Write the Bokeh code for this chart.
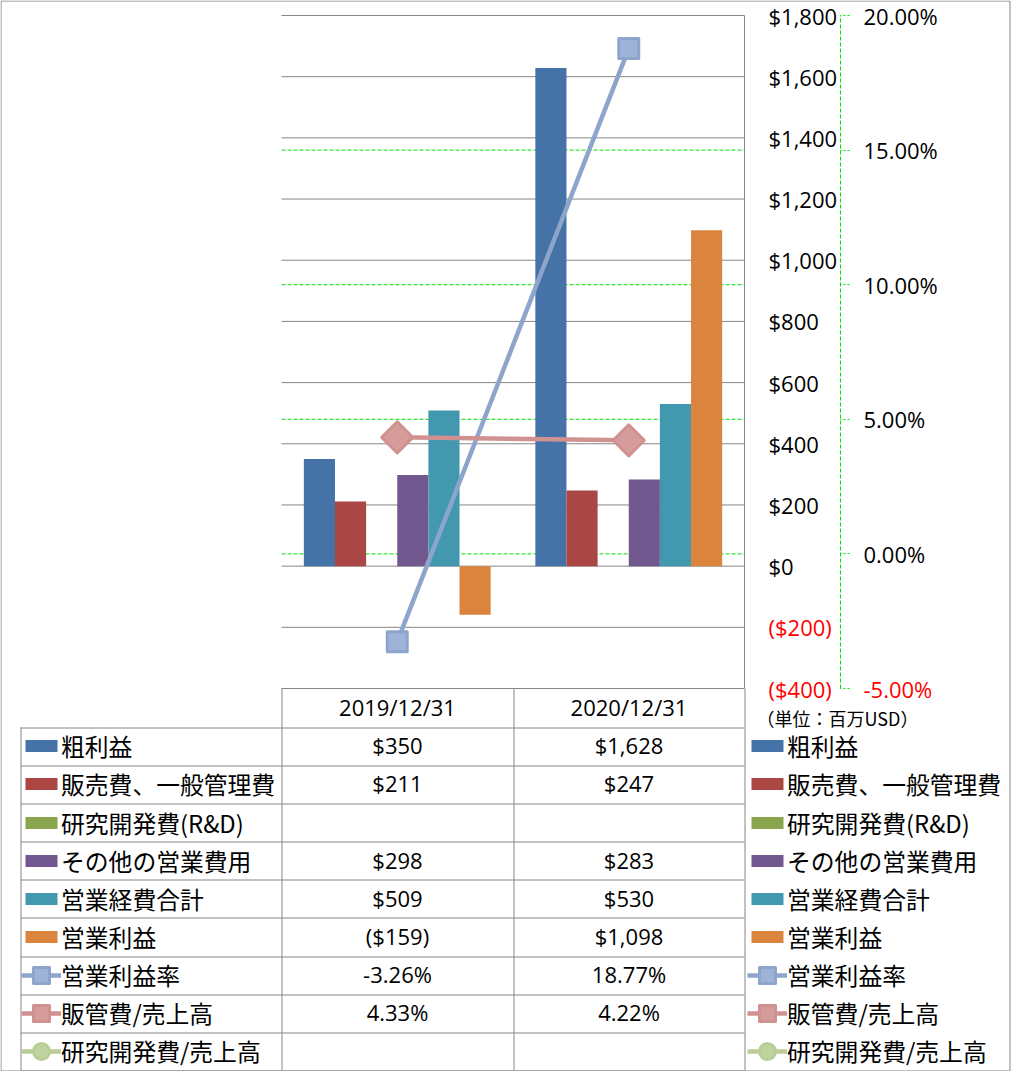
import math
from bokeh.plotting import figure
from bokeh.models import (Range1d, LinearAxis, FixedTicker, CustomJSTickFormatter,
                          Label, Legend, LegendItem, ColumnDataSource)
from bokeh.transform import dodge
from bokeh.embed import file_html
from bokeh.resources import INLINE

NaN = float("nan")

# ---------------- data ----------------
dates = ["2019/12/31", "2020/12/31"]
gross_profit = [350, 1628]
sga = [211, 247]
rnd = [NaN, NaN]
other_opex = [298, 283]
total_opex = [509, 530]
op_income = [-159, 1098]
op_margin = [-3.26, 18.77]
sga_ratio = [4.33, 4.22]
rnd_ratio = [NaN, NaN]

bar_names = ["粗利益", "販売費、一般管理費", "研究開発費(R&D)", "その他の営業費用", "営業経費合計", "営業利益"]
bar_values = [gross_profit, sga, rnd, other_opex, total_opex, op_income]
line_names = ["営業利益率", "販管費/売上高", "研究開発費/売上高"]
line_values = [op_margin, sga_ratio, rnd_ratio]

usd_ticks = [-400, -200, 0, 200, 400, 600, 800, 1000, 1200, 1400, 1600, 1800]
pct_ticks = [-5, 0, 5, 10, 15, 20]
pct_grid_ticks = [0, 5, 10, 15]
unit_note = "（単位：百万USD）"

# ---------------- styles ----------------
bar_colors = ["#4572A7", "#AA4643", "#89A54E", "#71588F", "#4198AF", "#DB843D"]
line_colors = ["#8EA5CB", "#D09290", "#B9CD96"]
marker_fills = ["#9DB3D8", "#D69C9B", "#BFD39E"]
markers = ["square", "square", "circle"]
marker_sizes = [20, 22, 20]
marker_angles = [0, math.pi / 4, 0]
GRAY = "#868686"
GREEN = "#00E000"
RED = "#FF0000"
NUM_FONT = "Open Sans"
JP_FONT = "Noto Sans CJK JP"

# ---------------- layout (pixels) ----------------
W, H = 1011, 1071
PL, PR, PT, PB = 281, 744, 15, 688          # plot area inside the chart
PCT_AXIS_PX = 840
USD_MIN, USD_MAX = usd_ticks[0], usd_ticks[-1]
PCT_MIN, PCT_MAX = pct_ticks[0], pct_ticks[-1]
n_cat = len(dates)

# ranges chosen so the whole canvas is the frame and the plot area lands on PL..PR, PT..PB
ux = (PR - PL) / n_cat
x_start, x_end = -PL / ux, n_cat + (W - PR) / ux
uy = (PB - PT) / (USD_MAX - USD_MIN)
y_start, y_end = USD_MIN - (H - PB) / uy, USD_MAX + PT / uy
up = (PB - PT) / (PCT_MAX - PCT_MIN)
p_start, p_end = PCT_MIN - (H - PB) / up, PCT_MAX + PT / up

cat_x = [i + 0.5 for i in range(n_cat)]


def money(v):
    if v != v:
        return ""
    return f"(${abs(v):,.0f})" if v < 0 else f"${v:,.0f}"


def pct(v):
    if v != v:
        return ""
    return f"{v:.2f}%"


p = figure(width=W, height=H, x_range=Range1d(x_start, x_end), y_range=Range1d(y_start, y_end),
           x_axis_location=None, y_axis_location=None, toolbar_location=None,
           output_backend="svg", min_border=0, outline_line_color=None,
           background_fill_color="white", border_fill_color="white")
p.grid.visible = False
p.extra_y_ranges = {"pct": Range1d(p_start, p_end), "py": Range1d(H, 0)}
p.extra_x_ranges = {"px": Range1d(0, W)}

# gridlines (plot area only)
p.segment(x0=0, x1=n_cat, y0=pct_grid_ticks, y1=pct_grid_ticks, y_range_name="pct",
          line_color=GREEN, line_width=1, line_dash="4 2")
p.segment(x0=0, x1=n_cat, y0=usd_ticks, y1=usd_ticks, line_color=GRAY, line_width=1)

# ---------------- table and border lines (pixel ranges) ----------------
T_LEFT, T_COL1, T_COL2, T_RIGHT = 20.5, PL, 513, PR
HEAD_TOP, ROW_TOP, T_BOTTOM = PB, 726.7, 1070
n_rows = len(bar_names) + len(line_names)
pitch = (T_BOTTOM - ROW_TOP) / n_rows
row_tops = [ROW_TOP + k * pitch for k in range(n_rows + 1)]
col_centers = [(T_COL1 + T_COL2) / 2, (T_COL2 + T_RIGHT) / 2]

seg = dict(x0=[], y0=[], x1=[], y1=[])


def add_seg(x0, y0, x1, y1):
    seg["x0"].append(x0); seg["y0"].append(y0); seg["x1"].append(x1); seg["y1"].append(y1)


for yt in row_tops:
    add_seg(T_LEFT, round(yt) + 0.5, T_RIGHT, round(yt) + 0.5)
add_seg(T_LEFT, ROW_TOP, T_LEFT, T_BOTTOM)
for xc in (T_COL1, T_COL2):
    add_seg(xc + 0.5, HEAD_TOP, xc + 0.5, T_BOTTOM)
add_seg(T_RIGHT + 0.5, HEAD_TOP, T_RIGHT + 0.5, T_BOTTOM)
# outer border of the chart area
add_seg(0.5, 0.5, W - 1.5, 0.5)
add_seg(0.5, H - 0.5, W - 1.5, H - 0.5)
add_seg(0.5, 0.5, 0.5, H - 0.5)
add_seg(W - 1.5, 0.5, W - 1.5, H - 0.5)
p.segment(x0="x0", y0="y0", x1="x1", y1="y1", source=ColumnDataSource(seg),
          x_range_name="px", y_range_name="py", line_color=GRAY, line_width=1)

# ---------------- bars ----------------
bw = 0.1345
bar_renderers = []
for i, (name, vals, color) in enumerate(zip(bar_names, bar_values, bar_colors)):
    src = ColumnDataSource(dict(x=cat_x, top=vals))
    r = p.vbar(x=dodge("x", (i - 2.5) * bw), top="top", bottom=0, width=bw,
               source=src, fill_color=color, line_color=None)
    bar_renderers.append(r)

# ---------------- lines ----------------
line_renderers = []
for i, (name, vals) in enumerate(zip(line_names, line_values)):
    src = ColumnDataSource(dict(x=cat_x, y=vals))
    lr = p.line("x", "y", source=src, y_range_name="pct", line_color=line_colors[i], line_width=4.5)
    sr = p.scatter("x", "y", source=src, y_range_name="pct", marker=markers[i],
                   size=marker_sizes[i], angle=marker_angles[i], fill_color=marker_fills[i],
                   line_color=line_colors[i], line_width=3, line_join="round")
    line_renderers.append([lr, sr])

# ---------------- axes (fixed inside the canvas) ----------------
USD_STANDOFF = 24
usd_axis = LinearAxis(
    fixed_location=n_cat, bounds=(USD_MIN, USD_MAX),
    ticker=FixedTicker(ticks=usd_ticks),
    formatter=CustomJSTickFormatter(code="return tick < 0 ? '' : '$' + tick.toLocaleString('en-US')"),
    axis_line_color=GRAY, major_tick_out=0, major_tick_in=0, minor_tick_out=0, minor_tick_in=0,
    major_label_standoff=USD_STANDOFF, major_label_text_font=NUM_FONT,
    major_label_text_font_size="22px", major_label_text_color="black")
p.add_layout(usd_axis, "right")

PCT_TICK, PCT_STANDOFF = 9, 14
pct_axis = LinearAxis(
    y_range_name="pct", fixed_location=x_start + PCT_AXIS_PX / ux, bounds=(PCT_MIN, PCT_MAX),
    ticker=FixedTicker(ticks=pct_ticks),
    formatter=CustomJSTickFormatter(code="return tick < 0 ? '' : tick.toFixed(2) + '%'"),
    axis_line_color=GREEN, axis_line_dash="4 2", major_tick_out=PCT_TICK, major_tick_in=0,
    major_tick_line_color=GREEN, major_tick_line_dash="2 2", minor_tick_out=0, minor_tick_in=0,
    major_label_standoff=PCT_STANDOFF, major_label_text_font=NUM_FONT,
    major_label_text_font_size="22px", major_label_text_color="black")
p.add_layout(pct_axis, "right")

# negative tick labels in red
for v in usd_ticks:
    if v < 0:
        p.add_layout(Label(x=PR + USD_STANDOFF, y=v, x_range_name="px", text=money(v),
                           text_color=RED, text_font=NUM_FONT, text_font_size="22px",
                           text_baseline="middle", text_align="left"))
for v in pct_ticks:
    if v < 0:
        p.add_layout(Label(x=PCT_AXIS_PX + PCT_TICK + PCT_STANDOFF, y=v, x_range_name="px",
                           y_range_name="pct", text=f"{v:.2f}%", text_color=RED,
                           text_font=NUM_FONT, text_font_size="22px",
                           text_baseline="middle", text_align="left"))

# ---------------- table texts ----------------
TXT_DY = -1
for j, d in enumerate(dates):
    p.add_layout(Label(x=col_centers[j], y=(HEAD_TOP + ROW_TOP) / 2 + TXT_DY, x_range_name="px",
                       y_range_name="py", text=d, text_font=NUM_FONT, text_font_size="22px",
                       text_align="center", text_baseline="middle", text_color="black"))

table_texts = [[money(v) for v in vals] for vals in bar_values] + \
              [[pct(v) for v in vals] for vals in line_values]
for k, row in enumerate(table_texts):
    cy = (row_tops[k] + row_tops[k + 1]) / 2 + TXT_DY
    for j, t in enumerate(row):
        if t:
            p.add_layout(Label(x=col_centers[j], y=cy, x_range_name="px", y_range_name="py",
                               text=t, text_font=NUM_FONT, text_font_size="22px",
                               text_align="center", text_baseline="middle", text_color="black"))

p.add_layout(Label(x=756, y=717, x_range_name="px", y_range_name="py", text=unit_note,
                   text_font=JP_FONT, text_font_size="18px", text_align="left",
                   text_baseline="middle", text_color="black"))

# ---------------- legends (table keys and right-hand legend) ----------------
ITEM_H = 40


def add_legend(renderers, label, x_left, cy, gw, gh, standoff):
    leg = Legend(items=[LegendItem(label=label, renderers=renderers)],
                 location=(x_left, H - (cy + ITEM_H / 2)),
                 glyph_width=gw, glyph_height=gh, label_height=ITEM_H, label_standoff=standoff,
                 padding=0, margin=0, spacing=0, border_line_color=None,
                 background_fill_alpha=0, label_text_font=JP_FONT,
                 label_text_font_size="23.8px", label_text_color="black")
    p.add_layout(leg)


for k in range(n_rows):
    cy = (row_tops[k] + row_tops[k + 1]) / 2
    if k < len(bar_names):
        add_legend([bar_renderers[k]], bar_names[k], 21, cy, 40, 15, 0)
        add_legend([bar_renderers[k]], bar_names[k], 747, cy, 40, 15, 0)
    else:
        m = k - len(bar_names)
        add_legend(line_renderers[m], line_names[m], 21, cy, 40, ITEM_H, 0)
        add_legend(line_renderers[m], line_names[m], 747, cy, 40, ITEM_H, 0)

open("out.html", "w").write(file_html(p, INLINE))
